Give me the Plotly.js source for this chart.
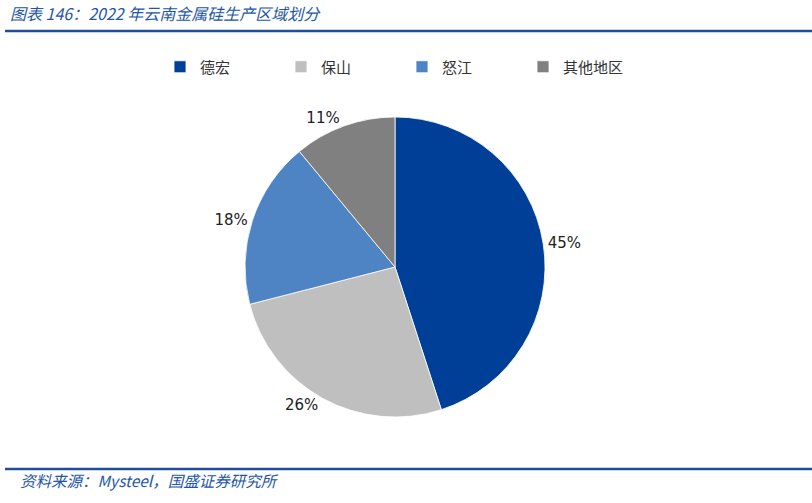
<!DOCTYPE html>
<html><head><meta charset="utf-8">
<script src="https://cdn.plot.ly/plotly-3.0.1.min.js"></script>
<style>html,body{margin:0;padding:0;background:#fff}#chart{width:812px;height:503px}</style>
</head><body><div id="chart"></div>
<script>
const categories = ['德宏', '保山', '怒江', '其他地区'];
const shares = [45, 26, 18, 11];
const colors = ['#003F98', '#BFBFBF', '#4F84C4', '#808080'];
const titleText = '图表 146：2022 年云南金属硅生产区域划分';
const sourceText = '资料来源：Mysteel，国盛证券研究所';

const W = 812, H = 503;
const cx = 395, cy = 267, r = 150;

const trace = {
  type: 'pie',
  labels: categories,
  values: shares,
  sort: false,
  direction: 'clockwise',
  rotation: 0,
  marker: {colors: colors, line: {color: '#ffffff', width: 0.8}},
  texttemplate: '%{percent:.0%}',
  textposition: 'outside',
  textfont: {family: 'DejaVu Sans, Verdana, sans-serif', size: 15, color: '#222'},
  hoverinfo: 'label+percent',
  domain: {x: [(cx - r) / W, (cx + r) / W], y: [1 - (cy + r) / H, 1 - (cy - r) / H]},
  automargin: false
};

const layout = {
  width: W, height: H,
  margin: {l: 0, r: 0, t: 0, b: 0},
  paper_bgcolor: '#fff',
  showlegend: true,
  legend: {
    orientation: 'h', xref: 'paper', yref: 'paper',
    x: 160 / W, xanchor: 'left', y: 1 - 67 / H, yanchor: 'middle',
    entrywidth: 76, entrywidthmode: 'pixels', itemwidth: 30, traceorder: 'normal',
    font: {family: 'Noto Sans CJK SC, sans-serif', size: 15, color: '#333'}
  },
  annotations: [
    {text: titleText, xref: 'paper', yref: 'paper', x: 8 / W, y: 1 - 13 / H, xanchor: 'left', yanchor: 'middle',
     showarrow: false, font: {family: 'Noto Sans CJK SC, sans-serif', size: 16, color: '#2356A6'}},
    {text: sourceText, xref: 'paper', yref: 'paper', x: 18 / W, y: 1 - 480 / H, xanchor: 'left', yanchor: 'middle',
     showarrow: false, font: {family: 'Noto Sans CJK SC, sans-serif', size: 15.5, color: '#2356A6'}}
  ],
  shapes: [
    {type: 'line', xref: 'paper', yref: 'paper', x0: 5 / W, x1: 1, y0: 1 - 31 / H, y1: 1 - 31 / H,
     line: {color: '#1F4E9A', width: 2.5}},
    {type: 'line', xref: 'paper', yref: 'paper', x0: 5 / W, x1: 1, y0: 1 - 469 / H, y1: 1 - 469 / H,
     line: {color: '#1F4E9A', width: 2.5}}
  ]
};

Plotly.newPlot('chart', [trace], layout, {displayModeBar: false, staticPlot: true}).then(() => {
  document.querySelectorAll('.annotation-text').forEach(t => t.style.fontStyle = 'italic');
});
</script>
</body></html>
